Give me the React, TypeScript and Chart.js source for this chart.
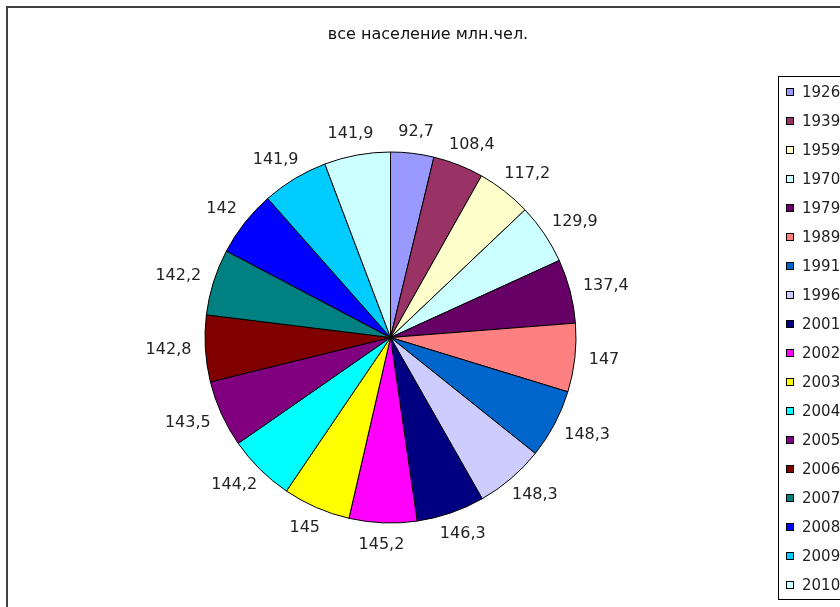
import React, { useEffect, useRef } from 'react';
import { Chart, registerables } from 'chart.js';

Chart.register(...registerables);

const titleText = 'все население млн.чел.';
const years = ['1926', '1939', '1959', '1970', '1979', '1989', '1991', '1996', '2001', '2002', '2003', '2004', '2005', '2006', '2007', '2008', '2009', '2010'];
const population = [92.7, 108.4, 117.2, 129.9, 137.4, 147, 148.3, 148.3, 146.3, 145.2, 145, 144.2, 143.5, 142.8, 142.2, 142, 141.9, 141.9];
const sliceColors = ['#9999FF', '#993366', '#FFFFCC', '#CCFFFF', '#660066', '#FF8080', '#0066CC', '#CCCCFF', '#000080', '#FF00FF', '#FFFF00', '#00FFFF', '#800080', '#800000', '#008080', '#0000FF', '#00CCFF', '#CCFFFF'];

const fmt = (v: number) => String(v).replace('.', ',');

const decorPlugin = {
  id: 'decor',
  beforeDraw(chart: any) {
    const ctx = chart.ctx;
    ctx.save();
    ctx.fillStyle = '#ffffff';
    ctx.fillRect(0, 0, chart.width, chart.height);
    ctx.strokeStyle = '#404040';
    ctx.lineWidth = 2;
    ctx.strokeRect(7, 7, 1000, 1000);
    ctx.restore();
  },
  afterDraw(chart: any) {
    const ctx = chart.ctx;
    ctx.save();
    // title
    ctx.fillStyle = '#111';
    ctx.font = '16px "DejaVu Sans"';
    ctx.textAlign = 'center';
    ctx.textBaseline = 'middle';
    ctx.fillText(titleText, 428, 35);

    // data labels
    ctx.font = '16px "DejaVu Sans"';
    ctx.fillStyle = '#222';
    const meta = chart.getDatasetMeta(0);
    meta.data.forEach((arc: any, i: number) => {
      const p = arc.getProps(['x', 'y', 'startAngle', 'endAngle', 'outerRadius'], true);
      const mid = (p.startAngle + p.endAngle) / 2;
      const dx = Math.cos(mid);
      const dy = Math.sin(mid);
      const txt = fmt(chart.data.datasets[0].data[i]);
      const w = ctx.measureText(txt).width;
      const d = p.outerRadius + 12;
      const cx = p.x + dx * (d + w / 2 + 2);
      const cy = p.y + dy * (d + 10);
      ctx.fillText(txt, cx, cy);
    });

    // legend
    const lx = 778.5;
    const ly = 76.5;
    ctx.strokeStyle = '#000';
    ctx.lineWidth = 1;
    ctx.strokeRect(lx, ly, 200, 523);
    ctx.textAlign = 'left';
    ctx.font = '15px "DejaVu Sans"';
    ctx.fillStyle = '#222';
    const labels = chart.data.labels as string[];
    labels.forEach((lab: string, i: number) => {
      const yc = 92 + i * 29;
      ctx.fillStyle = sliceColors[i];
      ctx.fillRect(786.5, yc - 3.5, 7, 7);
      ctx.strokeStyle = '#000';
      ctx.strokeRect(786.5, yc - 3.5, 7, 7);
      ctx.fillStyle = '#222';
      ctx.fillText(lab, 802, yc + 1);
    });
    ctx.restore();
  },
};

export default function App() {
  const ref = useRef<HTMLCanvasElement | null>(null);
  useEffect(() => {
    if (!ref.current) return;
    const chart = new Chart(ref.current, {
      type: 'pie',
      data: {
        labels: years,
        datasets: [
          {
            data: population,
            backgroundColor: sliceColors,
            borderColor: '#000',
            borderWidth: 1,
            hoverOffset: 0,
          },
        ],
      },
      options: {
        responsive: false,
        animation: false,
        devicePixelRatio: 1,
        layout: { padding: { left: 204.5, right: 263.5, top: 151.5, bottom: 83.5 } },
        plugins: {
          legend: { display: false },
          title: { display: false },
          tooltip: { enabled: false },
        },
      },
      plugins: [decorPlugin],
    });
    return () => chart.destroy();
  }, []);
  return (
    <div style={{ position: 'absolute', left: 0, top: 0, width: 840, height: 607, background: '#fff' }}>
      <canvas ref={ref} width={840} height={607} style={{ display: 'block' }} />
    </div>
  );
}
